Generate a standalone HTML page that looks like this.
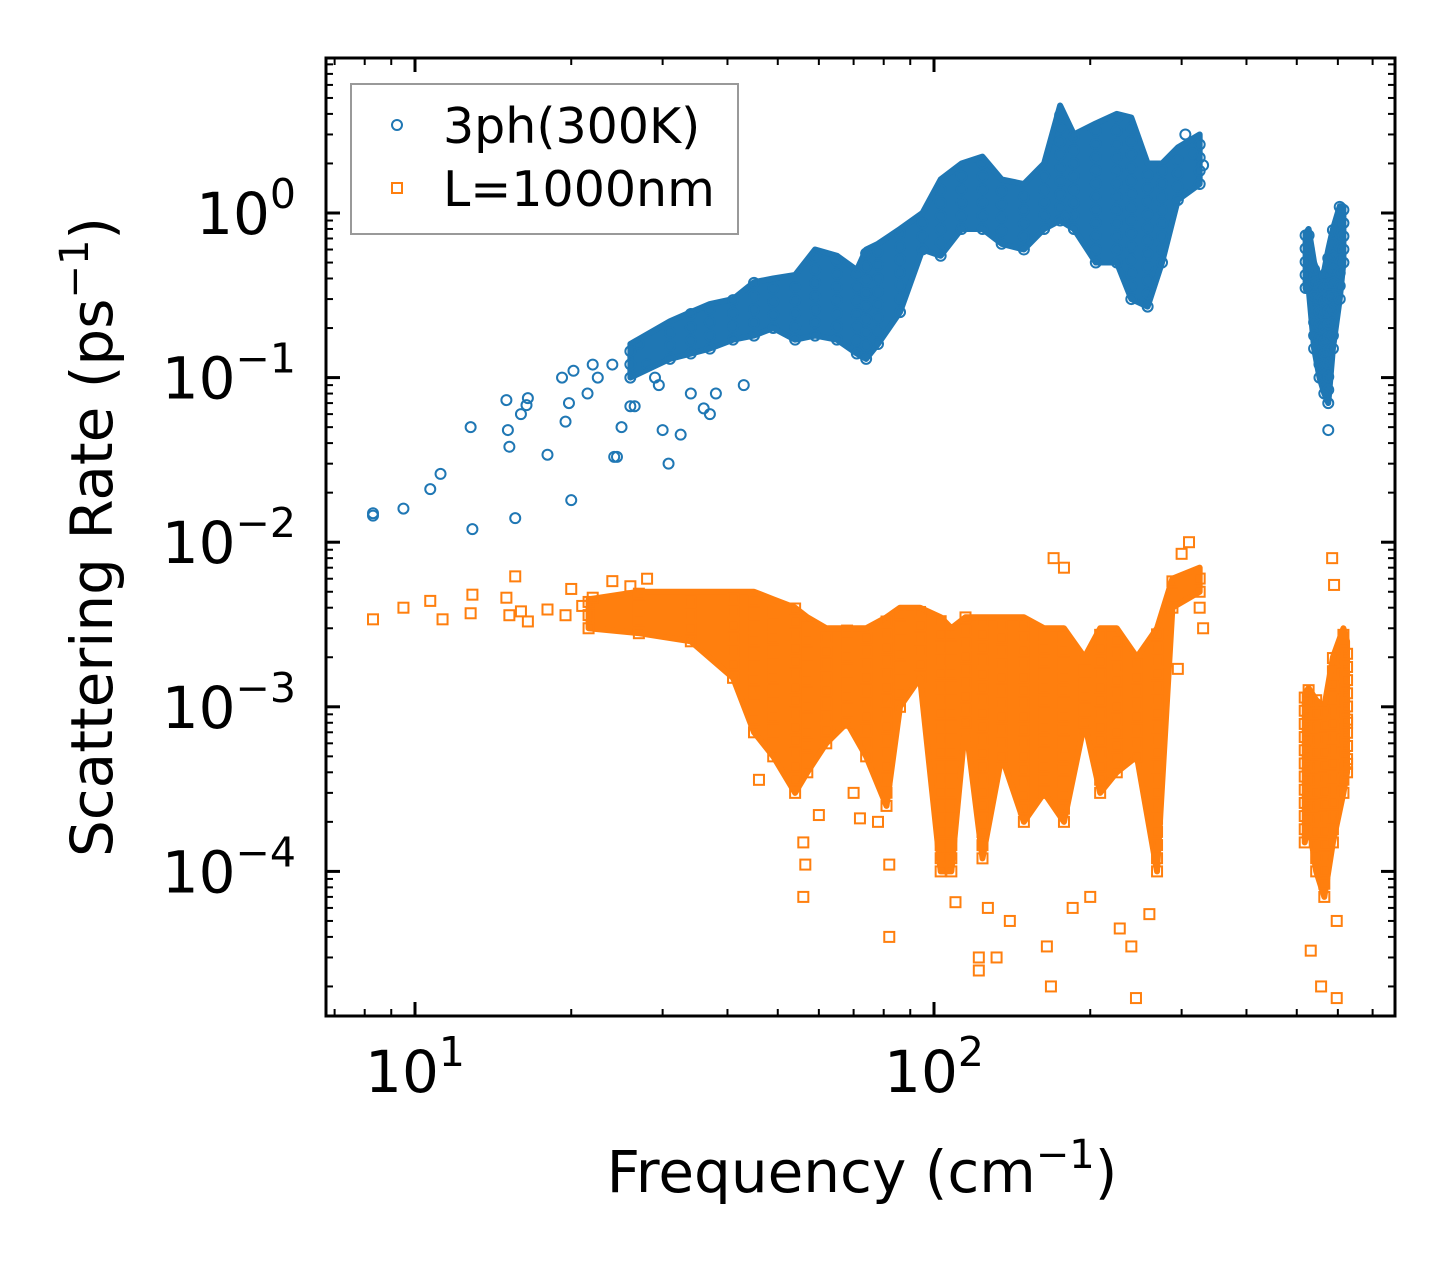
<!DOCTYPE html>
<html><head><meta charset="utf-8"><style>
body{margin:0;background:#fff}
svg text{font-family:"DejaVu Sans","Liberation Sans",sans-serif;fill:#000}
</style></head><body>
<svg id="chart" width="1455" height="1265" viewBox="0 0 1455 1265" xmlns="http://www.w3.org/2000/svg" style="position:absolute;left:0;top:0">
<rect width="1455" height="1265" fill="#fff"/>
<g id="plot"></g>
<g id="axes"></g>
</svg>
<script>
// ---- data ----
const xTickVals = [10, 100];
const xTickLabels = ["1", "2"];
const yTickVals = [1, 0.1, 0.01, 0.001, 0.0001];
const yTickLabels = ["0", "\u22121", "\u22122", "\u22123", "\u22124"];
const blueFreq = [8.3,8.3,9.5,10.7,11.2,12.8,12.9,15,15.1,15.2,15.6,16,16.4,16.5,18,19.2,19.5,19.8,20,20.2,21.5,22,22.5,24,24.2,24.5,25,26,26.5,27,28,29,29.5,30,30.8,32.5,34,36,37,38,43,180,575,330,315,305];
const blueRate = [0.015,0.0145,0.016,0.021,0.026,0.05,0.012,0.073,0.048,0.038,0.014,0.06,0.068,0.075,0.034,0.1,0.054,0.07,0.018,0.11,0.08,0.12,0.1,0.12,0.033,0.033,0.05,0.067,0.067,0.16,0.12,0.1,0.09,0.048,0.03,0.045,0.08,0.065,0.06,0.08,0.09,0.95,0.048,1.95,2.3,3.0];
const blueBandFreq = [26,31,34,37,41,45,49,54,59,65,71,74,78,86,95,103,113,124,135,149,163,175,186,205,225,240,258,275,295,325];
const blueBandLo = [0.1,0.13,0.14,0.15,0.17,0.18,0.2,0.17,0.18,0.17,0.14,0.13,0.16,0.25,0.6,0.55,0.8,0.8,0.65,0.6,0.8,0.9,0.8,0.5,0.5,0.3,0.27,0.5,1.2,1.5];
const blueBandHi = [0.16,0.22,0.25,0.28,0.3,0.38,0.4,0.42,0.6,0.55,0.45,0.6,0.65,0.8,1.0,1.6,2.0,2.2,1.6,1.5,2.0,4.5,3.0,3.5,4.0,3.8,2.0,2.0,2.5,3.0];
const blueBand2Freq = [520,527,540,553,565,575,587,605,615];
const blueBand2Lo = [0.35,0.35,0.15,0.1,0.08,0.07,0.15,0.3,0.5];
const blueBand2Hi = [0.75,0.8,0.5,0.4,0.45,0.6,0.8,1.1,1.1];
const orFreq = [8.3,9.5,10.7,11.3,12.8,12.9,15,15.2,15.6,16,16.5,18,19.5,20,21,22,24,26,28,46,56,56.5,56,60,70,72,78,82,82,110,122,122,127,132,140,165,168,170,178,185,200,228,240,245,260,295,300,310,325,330,532,557,597,597,585,590,625,625];
const orRate = [3.4e-3,4e-3,4.4e-3,3.4e-3,3.7e-3,4.8e-3,4.6e-3,3.6e-3,6.2e-3,3.8e-3,3.3e-3,3.9e-3,3.6e-3,5.2e-3,4.1e-3,4.6e-3,5.8e-3,5.4e-3,6e-3,3.6e-4,1.5e-4,1.1e-4,7e-5,2.2e-4,3e-4,2.1e-4,2e-4,1.1e-4,4e-5,6.5e-5,3e-5,2.5e-5,6e-5,3e-5,5e-5,3.5e-5,2e-5,8e-3,7e-3,6e-5,7e-5,4.5e-5,3.5e-5,1.7e-5,5.5e-5,1.7e-3,8.5e-3,1e-2,4e-3,3e-3,3.3e-5,2e-5,1.7e-5,5e-5,8e-3,5.5e-3,4.5e-4,8e-4];
const orBandFreq = [21.6,27,34,41,45,49,54,57,62,68,74,81,86,94,103,108,115,124,135,149,163,178,195,209,225,246,269,288,325];
const orBandLo = [3e-3,2.8e-3,2.5e-3,1.5e-3,7e-4,5e-4,3e-4,4e-4,6e-4,8e-4,5e-4,2.5e-4,1e-3,1.5e-3,1e-4,1e-4,8e-4,1.2e-4,5e-4,2e-4,3e-4,2e-4,8e-4,3e-4,4e-4,5e-4,1e-4,4e-3,5e-3];
const orBandHi = [4.5e-3,5e-3,5e-3,5e-3,5e-3,4.5e-3,4e-3,3.5e-3,3e-3,3e-3,3e-3,3.5e-3,4e-3,4e-3,3.5e-3,3e-3,3.5e-3,3.5e-3,3.5e-3,3.5e-3,3e-3,3e-3,2e-3,3e-3,3e-3,2e-3,3e-3,6e-3,7e-3];
const orBand2Freq = [518,527,545,565,587,615,625];
const orBand2Lo = [1.5e-4,2e-4,1e-4,7e-5,1.5e-4,3e-4,4e-4];
const orBand2Hi = [1.2e-3,1.3e-3,1.1e-3,1e-3,2e-3,3e-3,2.5e-3];

// ---- axes ----
const L=326,R=1395,T=58,B=1016;
const x0=415, xDec=519, y0=213, yDec=164.6;
const sx = f => x0 + (Math.log10(f)-1)*xDec;
const sy = v => y0 - Math.log10(v)*yDec;
const NS="http://www.w3.org/2000/svg";
const plot=document.getElementById('plot'), axes=document.getElementById('axes');
function mk(tag, attrs, parent){const e=document.createElementNS(NS,tag);for(const k in attrs)e.setAttribute(k,attrs[k]);parent.appendChild(e);return e;}

const BLUE="#1f77b4", ORANGE="#ff7f0e";
function circle(f,v){const c=mk('circle',{cx:sx(f),cy:sy(v),r:5,fill:'none',stroke:BLUE,'stroke-width':2},plot);

}
function square(f,v){const c=mk('rect',{x:sx(f)-5,y:sy(v)-5,width:10,height:10,fill:'none',stroke:ORANGE,'stroke-width':2},plot);

}
function band(fr,lo,hi,color,name,draw){
  let pts=fr.map((f,i)=>sx(f)+','+sy(hi[i]));
  pts=pts.concat(fr.map((f,i)=>sx(f)+','+sy(lo[i])).reverse());
  const p=mk('polygon',{points:pts.join(' '),fill:color,stroke:color,'stroke-width':6,'stroke-linejoin':'round'},plot);
  
  
  fr.forEach((f,i)=>{const a=Math.log10(lo[i]),b=Math.log10(hi[i]);
    for(let t=a;t<=b+1e-9;t+=0.08)draw(f,Math.pow(10,t));});
}
band(orBandFreq,orBandLo,orBandHi,ORANGE,'l1000nm-band',square);
band(orBand2Freq,orBand2Lo,orBand2Hi,ORANGE,'l1000nm-band-high',square);
orFreq.forEach((f,i)=>square(f,orRate[i]));
band(blueBandFreq,blueBandLo,blueBandHi,BLUE,'3ph-band',circle);
band(blueBand2Freq,blueBand2Lo,blueBand2Hi,BLUE,'3ph-band-high',circle);
blueFreq.forEach((f,i)=>circle(f,blueRate[i]));

const fr=mk('rect',{x:L,y:T,width:R-L,height:B-T,fill:'none',stroke:'#000','stroke-width':3},axes);


for(let d=0;d<=2;d++)for(let m=1;m<=9;m++){const f=m*Math.pow(10,d);const x=sx(f);if(x<L||x>R)continue;
  const len=m===1?14:7,w=m===1?3:2;
  const t1=mk('line',{x1:x,x2:x,y1:B,y2:B-len,stroke:'#000','stroke-width':w},axes);
  
  const t2=mk('line',{x1:x,x2:x,y1:T,y2:T+len,stroke:'#000','stroke-width':w},axes);
  }
for(let d=-5;d<=0;d++)for(let m=1;m<=9;m++){const v=m*Math.pow(10,d);const y=sy(v);if(y<T||y>B)continue;
  const len=m===1?14:7,w=m===1?3:2;
  const t1=mk('line',{x1:L,x2:L+len,y1:y,y2:y,stroke:'#000','stroke-width':w},axes);
  
  const t2=mk('line',{x1:R,x2:R-len,y1:y,y2:y,stroke:'#000','stroke-width':w},axes);
  }
xTickVals.forEach((v,i)=>{const t=mk('text',{x:sx(v),y:1092,'font-size':58,'text-anchor':'middle'},axes);
  
  t.appendChild(document.createTextNode('10'));
  const s=mk('tspan',{dy:-26,'font-size':41},t);s.textContent=xTickLabels[i];});
yTickVals.forEach((v,i)=>{const t=mk('text',{x:296,y:sy(v)+21,'font-size':58,'text-anchor':'end'},axes);
  
  t.appendChild(document.createTextNode('10'));
  const s=mk('tspan',{dy:-26,'font-size':41},t);s.textContent=yTickLabels[i];});
</script>
<svg style="position:absolute;left:0;top:0" width="1455" height="1265">
<text x="862" y="1192" font-size="58" text-anchor="middle">Frequency (cm<tspan dy="-24" font-size="40">−1</tspan><tspan dy="24">)</tspan></text>
<text transform="translate(112,537) rotate(-90)" font-size="58" text-anchor="middle">Scattering Rate (ps<tspan dy="-24" font-size="40">−1</tspan><tspan dy="24">)</tspan></text>
<g>
<rect x="351" y="84" width="387" height="150" fill="#fff" fill-opacity="0.8" stroke="#999" stroke-width="2"/>
<circle cx="397" cy="125" r="5" fill="none" stroke="#1f77b4" stroke-width="2"/>
<text x="443" y="143" font-size="49">3ph(300K)</text>
<rect x="392" y="183" width="10" height="10" fill="none" stroke="#ff7f0e" stroke-width="2"/>
<text x="443" y="206" font-size="49">L=1000nm</text>
</g>
</svg>
</body></html>
